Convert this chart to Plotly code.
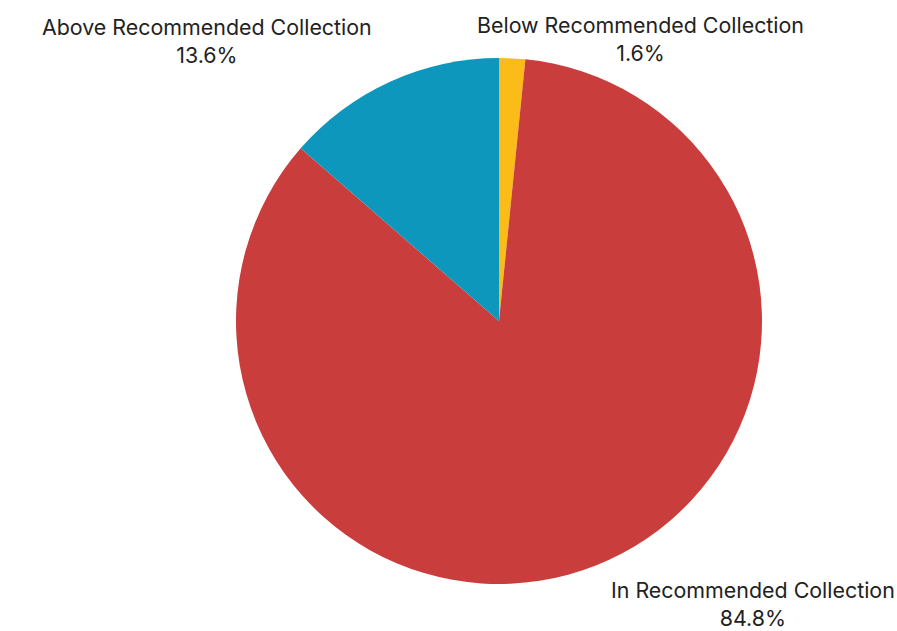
import plotly.graph_objects as go

# Share of samples by collection status
categories = ["Below Recommended Collection", "In Recommended Collection", "Above Recommended Collection"]
shares = [1.6, 84.8, 13.6]
colors = ["#FBBC1A", "#C93E3D", "#0E97BD"]

W, H = 897, 631
cx, cy, r = 499, 321, 263

fig = go.Figure(go.Pie(
    labels=categories,
    values=shares,
    sort=False,
    direction="clockwise",
    rotation=0,
    marker=dict(colors=colors, line=dict(width=0)),
    textinfo="none",
    hoverinfo="label+percent",
    showlegend=False,
    domain=dict(x=[(cx - r) / W, (cx + r) / W], y=[1 - (cy + r) / H, 1 - (cy - r) / H]),
))

# label anchor points (pixel centres of each two-line label)
label_pos = {
    "Below Recommended Collection": (640, 39),
    "In Recommended Collection": (753, 604),
    "Above Recommended Collection": (207, 41),
}
total = sum(shares)
for name, val in zip(categories, shares):
    px, py = label_pos[name]
    fig.add_annotation(
        x=px / W, y=1 - py / H, xref="paper", yref="paper",
        text=f"{name}<br>{val / total * 100:.1f}%",
        showarrow=False, xanchor="center", yanchor="middle",
        font=dict(family="Inter", size=21.4, color="#222222"),
    )

fig.update_layout(
    width=W, height=H,
    margin=dict(l=0, r=0, t=0, b=0),
    paper_bgcolor="white",
    plot_bgcolor="white",
)

fig.write_html("out.html")
